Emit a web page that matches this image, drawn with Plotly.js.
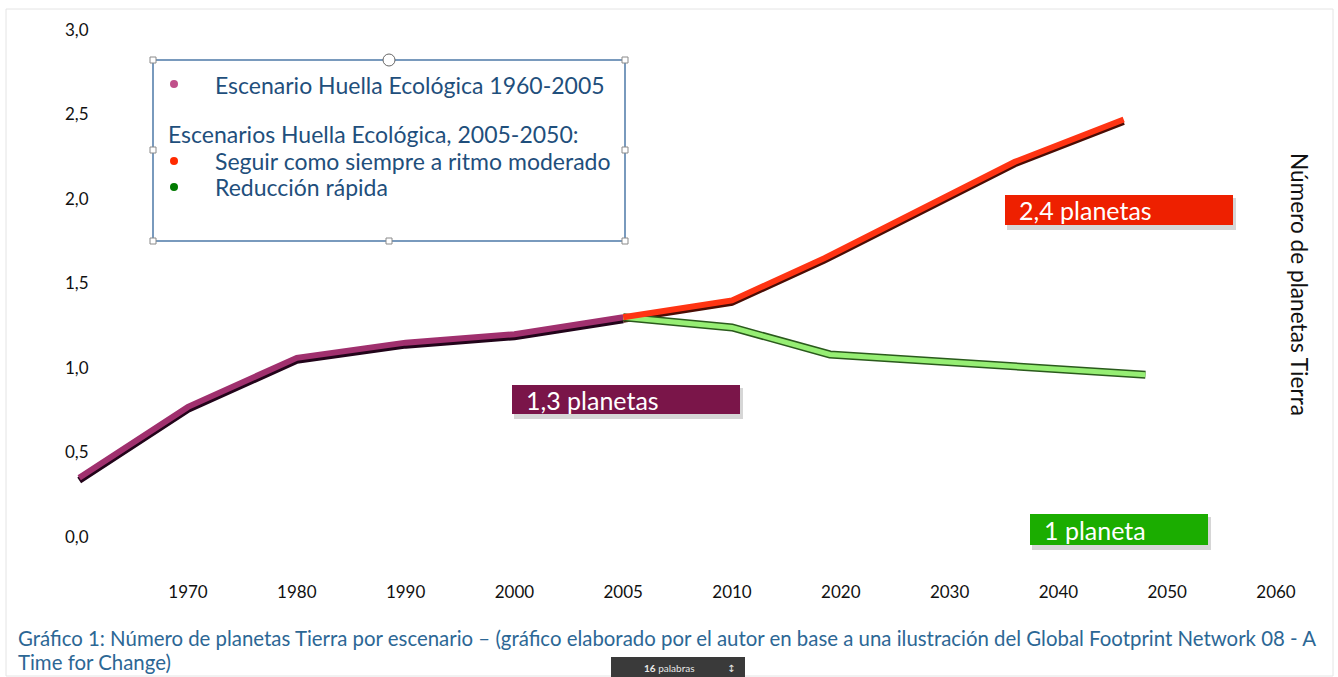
<!DOCTYPE html>
<html>
<head>
<meta charset="utf-8">
<script src="https://cdn.plot.ly/plotly-3.0.1.min.js"></script>
<style>html,body{margin:0;padding:0;background:#fff;}#chart{width:1338px;height:677px;}</style>
</head>
<body>
<div id="chart"></div>
<script>
// ---- data ----
const tickYears = [1970, 1980, 1990, 2000, 2005, 2010, 2020, 2030, 2040, 2050, 2060];
const histYears = [1960, 1970, 1980, 1990, 2000, 2005];
const histValues = [0.35, 0.77, 1.06, 1.15, 1.20, 1.30];
const bauYears = [2005, 2010, 2018.5, 2036, 2046];
const bauValues = [1.30, 1.40, 1.65, 2.22, 2.47];
const reduxYears = [2005, 2010, 2019, 2048];
const reduxValues = [1.30, 1.24, 1.08, 0.96];
const yTickValues = [0, 0.5, 1, 1.5, 2, 2.5, 3];
const yTickLabels = ["0,0", "0,5", "1,0", "1,5", "2,0", "2,5", "3,0"];
const labels = ["1,3 planetas", "2,4 planetas", "1 planeta"];
const legendLines = ["Escenario Huella Ecológica 1960-2005", "Escenarios Huella Ecológica, 2005-2050:", "Seguir como siempre a ritmo moderado", "Reducción rápida"];
const captionLines = ["Gráfico 1: Número de planetas Tierra por escenario – (gráfico elaborado por el autor en base a una ilustración del Global Footprint Network 08 - A", "Time for Change)"];

// the original axis is non-uniform: 10-year steps, except 2000-2005-2010
function pos(y) {
  if (y <= 2000) return (y - 1970) / 10;
  if (y <= 2010) return 3 + (y - 2000) / 5;
  return 5 + (y - 2010) / 10;
}

const FONT = "Lato, 'Open Sans', sans-serif";
const L = 62, R = 1290, T = 30, B = 537;
const X = px => (px - L) / (R - L);
const Y = py => (B - py) / (B - T);

function line(xs, ys, color, width, axis) {
  return {x: xs.map(pos), y: ys, yaxis: axis, mode: 'lines', type: 'scatter',
    line: {color: color, width: width, shape: 'linear'}, hoverinfo: 'skip', showlegend: false};
}

const traces = [
  // dark underside (base axis, range shifted so it sits ~2px lower)
  line(histYears, histValues, '#22041a', 7, 'y'),
  line(bauYears, bauValues, '#4a0d05', 6, 'y'),
  // main strokes (overlay axis with the true range, drawn on top)
  line(histYears, histValues, '#a0306e', 6, 'y2'),
  line(reduxYears, reduxValues, '#2a5a1c', 8, 'y2'),
  line(reduxYears, reduxValues, '#96ee74', 5, 'y2'),
  line(bauYears, bauValues, '#ff3413', 6, 'y2'),
];

const shapes = [];
const annotations = [];

// page border
shapes.push({type: 'rect', xref: 'paper', yref: 'paper', x0: X(6), x1: X(1333), y0: Y(9), y1: Y(676),
  line: {color: '#e4e4e4', width: 1}, fillcolor: 'rgba(0,0,0,0)', layer: 'below'});

// legend frame
shapes.push({type: 'rect', xref: 'paper', yref: 'paper', x0: X(153), x1: X(625), y0: Y(241), y1: Y(60),
  line: {color: '#4d7aa8', width: 1.5}, fillcolor: 'rgba(0,0,0,0)'});
[[153,60],[625,60],[153,150],[625,150],[153,241],[389,241],[625,241]].forEach(([hx, hy]) => {
  shapes.push({type: 'rect', xref: 'paper', yref: 'paper', x0: X(hx - 3), x1: X(hx + 3), y0: Y(hy + 3), y1: Y(hy - 3),
    line: {color: '#8a8a8a', width: 1}, fillcolor: '#ffffff'});
});
shapes.push({type: 'circle', xref: 'paper', yref: 'paper', x0: X(383), x1: X(395), y0: Y(66), y1: Y(54),
  line: {color: '#666', width: 1}, fillcolor: '#ffffff'});

// legend bullets
[[84, '#c0508a'], [161, '#ff2a00'], [187, '#007a00']].forEach(([by, c]) => {
  shapes.push({type: 'circle', xref: 'paper', yref: 'paper', x0: X(170), x1: X(178), y0: Y(by + 4), y1: Y(by - 4),
    line: {width: 0}, fillcolor: c});
});
// legend texts
[[213, 85], [166, 134], [213, 161], [213, 187]].forEach(([tx, ty], i) => {
  annotations.push({text: legendLines[i], xref: 'paper', yref: 'paper', x: X(tx), y: Y(ty),
    xanchor: 'left', yanchor: 'middle', showarrow: false,
    font: {family: FONT, size: 23, color: '#1f4f7c'}});
});

// value labels (box + shadow + text)
const boxes = [
  {x0: 512, x1: 740, y0: 385, y1: 414, c: '#7a1549'},
  {x0: 1005, x1: 1233, y0: 195, y1: 225, c: '#ee2000'},
  {x0: 1030, x1: 1208, y0: 514, y1: 545, c: '#1bad00'},
];
boxes.forEach((b, i) => {
  shapes.push({type: 'rect', xref: 'paper', yref: 'paper', x0: X(b.x0 + 2), x1: X(b.x1 + 3), y0: Y(b.y1 + 5), y1: Y(b.y0 + 3),
    line: {width: 0}, fillcolor: 'rgba(0,0,0,0.16)'});
  shapes.push({type: 'rect', xref: 'paper', yref: 'paper', x0: X(b.x0), x1: X(b.x1), y0: Y(b.y1), y1: Y(b.y0),
    line: {width: 0}, fillcolor: b.c});
  annotations.push({text: labels[i], xref: 'paper', yref: 'paper', x: X(b.x0 + 12), y: Y((b.y0 + b.y1) / 2),
    xanchor: 'left', yanchor: 'middle', showarrow: false,
    font: {family: FONT, size: 25, color: '#ffffff'}});
});

// right-side axis title (reads top to bottom)
annotations.push({text: 'Número de planetas Tierra', xref: 'paper', yref: 'paper', x: X(1300), y: Y(284),
  xanchor: 'center', yanchor: 'middle', textangle: 90, showarrow: false,
  font: {family: FONT, size: 22.6, color: '#111111'}});

// caption
[[638, 0], [662, 1]].forEach(([cy, i]) => {
  annotations.push({text: captionLines[i], xref: 'paper', yref: 'paper', x: X(16), y: Y(cy),
    xanchor: 'left', yanchor: 'middle', align: 'left', showarrow: false,
    font: {family: FONT, size: 20.4, color: '#2c6795'}});
});

// word-count pill
shapes.push({type: 'rect', xref: 'paper', yref: 'paper', x0: X(611), x1: X(745), y0: Y(677), y1: Y(657),
  line: {width: 0}, fillcolor: '#3a3a3a'});
annotations.push({text: '<b>16</b> palabras', xref: 'paper', yref: 'paper', x: X(669), y: Y(668),
  xanchor: 'center', yanchor: 'middle', showarrow: false, font: {family: FONT, size: 10, color: '#e8e8e8'}});
annotations.push({text: '↕', xref: 'paper', yref: 'paper', x: X(731), y: Y(668),
  xanchor: 'center', yanchor: 'middle', showarrow: false, font: {family: 'DejaVu Sans', size: 10, color: '#e8e8e8'}});

const shift = 2.5 / (B - T) * 3; // ~2.5px down for the shadow axis
const layout = {
  width: 1338, height: 677,
  margin: {l: L, r: 1338 - R, t: T, b: 677 - B},
  paper_bgcolor: '#ffffff', plot_bgcolor: '#ffffff',
  showlegend: false,
  xaxis: {
    range: [(L - 188) / 108.8, (R - 188) / 108.8],
    tickmode: 'array', tickvals: tickYears.map(pos), ticktext: tickYears.map(String),
    showgrid: false, zeroline: false, showline: false,
    ticks: 'outside', ticklen: 40, tickcolor: 'rgba(0,0,0,0)',
    tickfont: {family: FONT, size: 17, color: '#111'}, fixedrange: true
  },
  yaxis: {
    range: [shift, 3 + shift], showticklabels: false, ticks: '',
    showgrid: false, zeroline: false, showline: false, fixedrange: true
  },
  yaxis2: {
    range: [0, 3], overlaying: 'y', side: 'left',
    tickmode: 'array', tickvals: yTickValues, ticktext: yTickLabels,
    showgrid: false, zeroline: false, showline: false, ticks: '',
    ticklabelposition: 'inside', ticklabeloverflow: 'allow',
    tickfont: {family: FONT, size: 17, color: '#111'}, fixedrange: true
  },
  shapes: shapes,
  annotations: annotations
};

Plotly.newPlot('chart', traces, layout, {displayModeBar: false, staticPlot: true});
</script>
</body>
</html>
